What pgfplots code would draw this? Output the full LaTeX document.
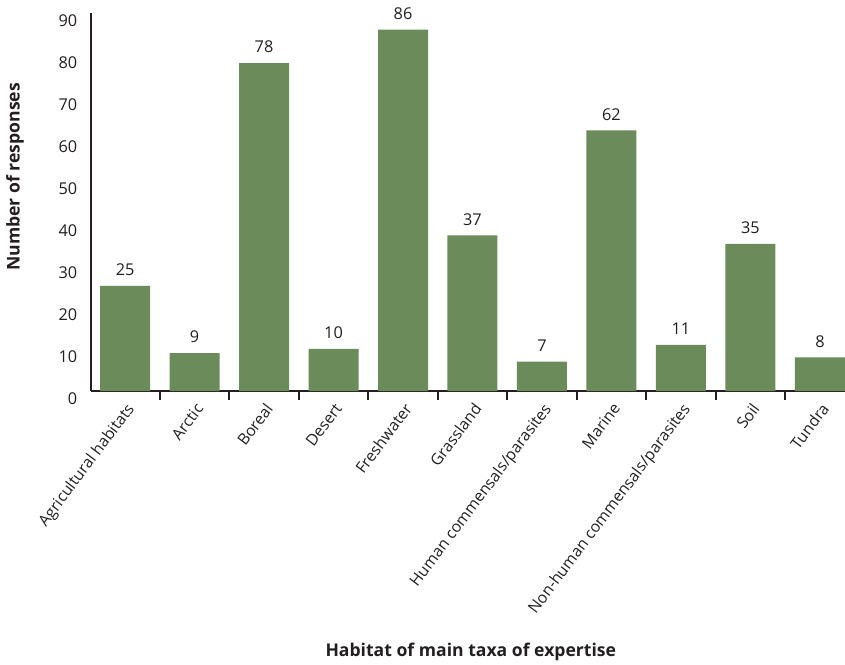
\documentclass[border=0pt]{standalone}
\usepackage{fontspec}
\setmainfont{Open Sans}
\usepackage{pgfplots}
\pgfplotsset{compat=1.18}
\definecolor{barg}{RGB}{107,139,90}
\definecolor{txt}{RGB}{35,31,32}
\begin{document}
\begin{tikzpicture}
\begin{axis}[
  scale only axis, width=565.7pt, height=283.7pt,
  xmin=-0.495, xmax=10.36, ymin=0, ymax=90,
  axis x line*=bottom, axis y line*=left,
  axis line style={line width=1.5pt, txt},
  tick align=outside,
  major tick length=6.5pt,
  minor tick length=6.5pt,
  ytick={0,10,...,90},
  ytick style={draw=none},
  yticklabel style={font=\fontsize{12.2}{14}\selectfont, text=txt, yshift=-5.6pt},
  /pgf/number format/assume math mode=true,
  xtick={0,...,10},
  major x tick style={draw=none},
  minor xtick={0.5,1.5,...,9.5},
  minor x tick style={draw=txt, line width=1.5pt},
  xticklabels={Agricultural habitats, Arctic, Boreal, Desert, Freshwater, Grassland, Human commensals/parasites, Marine, Non-human commensals/parasites, Soil, Tundra},
  xticklabel style={font=\fontsize{11.8}{14}\selectfont, text=txt, rotate=53, anchor=north east, inner sep=1pt},
  ylabel={\bfseries Number of responses},
  ylabel style={font=\fontsize{13.2}{15}\selectfont, text=txt, at={(axis description cs:-0.1004,0.566)}, anchor=center},
  xlabel={\bfseries Habitat of main taxa of expertise},
  xlabel style={font=\fontsize{13.2}{15}\selectfont, text=txt, at={(axis description cs:0.504,-0.69)}, anchor=center},
  nodes near coords,
  nodes near coords style={font=\fontsize{12.2}{14}\selectfont, text=txt, anchor=south, yshift=4pt},
  clip=false,
]
\addplot[ybar, bar width=37.5pt, fill=barg, draw=none] coordinates {
  (0,25) (1,9) (2,78) (3,10) (4,86) (5,37) (6,7) (7,62) (8,11) (9,35) (10,8)
};
\coordinate (O) at (rel axis cs:0,0);
\end{axis}
\pgfresetboundingbox
\path ([shift={(-68pt,-204.75pt)}]O) rectangle ([shift={(565.75pt,293.25pt)}]O);
\end{tikzpicture}
\end{document}
